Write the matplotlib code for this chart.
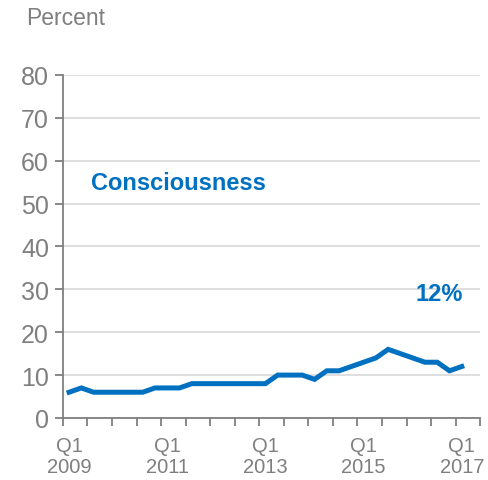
import matplotlib.pyplot as plt

plt.rcParams['font.family'] = ['Liberation Sans', 'DejaVu Sans']

# quarterly share, Q1 2009 .. Q1 2017
quarters = list(range(33))
values = [6, 7, 6, 6, 6, 6, 6, 7, 7, 7,
          8, 8, 8, 8, 8, 8, 8, 10, 10, 10,
          9, 11, 11, 12, 13, 14, 16, 15, 14, 13,
          13, 11, 12]
year_labels = ['Q1\n2009', 'Q1\n2011', 'Q1\n2013', 'Q1\n2015', 'Q1\n2017']
label_pos = [0, 8, 16, 24, 32]

blue = '#0070C0'
grey = '#7F7F7F'

fig = plt.figure(figsize=(4.88, 4.81), dpi=100)
ax = fig.add_axes([0.129, 0.129, 0.855, 0.713])

ax.plot(quarters, values, color=blue, lw=3.6, solid_joinstyle='miter', zorder=3)

ax.set_xlim(-0.5, 33.5)
ax.set_ylim(0, 80)
ax.set_yticks(range(0, 81, 10))
ax.yaxis.grid(True, color='#D9D9D9', lw=1.2)
ax.set_axisbelow(True)

# tick marks between half-years, labels centred on Q1 of odd years
ax.set_xticks([x - 0.5 for x in range(0, 35, 2)])
ax.set_xticklabels([])
ax.set_xticks(label_pos, minor=True)
ax.set_xticklabels(year_labels, minor=True, fontsize=14.5, color=grey,
                   linespacing=1.15)
ax.tick_params(axis='x', which='major', direction='out', length=6,
               color=grey, width=1.3)
ax.tick_params(axis='x', which='minor', length=0, pad=13)
ax.tick_params(axis='y', direction='out', length=6, color=grey, width=1.3,
               labelsize=18, labelcolor=grey, pad=4)

for side in ['top', 'right']:
    ax.spines[side].set_visible(False)
for side in ['left', 'bottom']:
    ax.spines[side].set_color(grey)
    ax.spines[side].set_linewidth(1.3)

ax.text(1.8, 53.4, 'Consciousness', color=blue, fontsize=17,
        fontweight='bold', va='baseline', ha='left')
ax.text(32.1, 27.5, '12%', color=blue, fontsize=17,
        fontweight='bold', va='baseline', ha='right')

fig.text(26 / 488, 1 - 25 / 481, 'Percent', color=grey, fontsize=16.5,
         va='baseline', ha='left')

fig.savefig('out.png', dpi=100)
